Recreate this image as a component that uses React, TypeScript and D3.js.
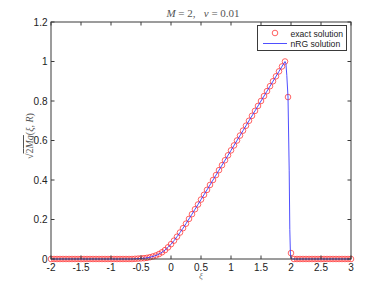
import React from "react";
import * as d3 from "d3";

const xiExact = [
  -2, -1.95, -1.9, -1.85, -1.8, -1.75, -1.7, -1.65, -1.6, -1.55, -1.5, -1.45, -1.4, -1.35, -1.3, -1.25,
  -1.2, -1.15, -1.1, -1.05, -1, -0.95, -0.9, -0.85, -0.8, -0.75, -0.7, -0.65, -0.6, -0.55, -0.5, -0.45,
  -0.4, -0.35, -0.3, -0.25, -0.2, -0.15, -0.1, -0.05, 0, 0.05, 0.1, 0.15, 0.2, 0.25, 0.3, 0.35, 0.4,
  0.45, 0.5, 0.55, 0.6, 0.65, 0.7, 0.75, 0.8, 0.85, 0.9, 0.95, 1, 1.05, 1.1, 1.15, 1.2, 1.25, 1.3,
  1.35, 1.4, 1.45, 1.5, 1.55, 1.6, 1.65, 1.7, 1.75, 1.8, 1.85, 1.9, 1.95, 2, 2.05, 2.1, 2.15, 2.2,
  2.25, 2.3, 2.35, 2.4, 2.45, 2.5, 2.55, 2.6, 2.65, 2.7, 2.75, 2.8, 2.85, 2.9, 2.95, 3,
];
const uExact = [
  0, 0, 0, 0, 0, 0, 0, 0, 0, 0, 0, 0, 0, 0, 0, 0,
  0, 0, 0, 0, 0, 0, 0, 0, 0, 0, 0, 0, 0.001, 0.002, 0.003, 0.004,
  0.006, 0.009, 0.013, 0.018, 0.025, 0.034, 0.045, 0.059, 0.075, 0.093, 0.113, 0.134, 0.156, 0.179, 0.203, 0.227, 0.252,
  0.276, 0.301, 0.325, 0.35, 0.375, 0.4, 0.425, 0.45, 0.475, 0.5, 0.525, 0.55, 0.575, 0.6, 0.625, 0.65, 0.675, 0.7,
  0.725, 0.75, 0.775, 0.8, 0.825, 0.85, 0.875, 0.9, 0.925, 0.95, 0.975, 1.0, 0.82, 0.03, 0, 0, 0, 0,
  0, 0, 0, 0, 0, 0, 0, 0, 0, 0, 0, 0, 0, 0, 0, 0,
];

const xiNRG = [
  -2, -0.65, -0.6, -0.55, -0.5, -0.45, -0.4, -0.35, -0.3, -0.25, -0.2, -0.15, -0.1, -0.05, 0, 0.05, 0.1,
  0.15, 0.2, 0.25, 0.3, 0.35, 0.4, 0.45, 0.5, 0.6, 0.8, 1.0, 1.2, 1.4, 1.6, 1.8, 1.9, 1.915, 1.93, 1.95,
  1.97, 1.98, 1.99, 2.0, 2.02, 3,
];
const uNRG = [
  0, 0, 0.001, 0.002, 0.003, 0.004, 0.006, 0.009, 0.013, 0.018, 0.025, 0.034, 0.045, 0.059, 0.075, 0.093, 0.113,
  0.134, 0.156, 0.179, 0.203, 0.227, 0.252, 0.276, 0.301, 0.35, 0.45, 0.55, 0.65, 0.75, 0.85, 0.95, 1.0, 0.99, 0.93, 0.82,
  0.45, 0.15, 0.03, 0.005, 0, 0,
];

const xTicks = [-2, -1.5, -1, -0.5, 0, 0.5, 1, 1.5, 2, 2.5, 3];
const xTickLabels = ["-2", "-1.5", "-1", "-0.5", "0", "0.5", "1", "1.5", "2", "2.5", "3"];
const yTicks = [0, 0.2, 0.4, 0.6, 0.8, 1, 1.2];
const yTickLabels = ["0", "0.2", "0.4", "0.6", "0.8", "1", "1.2"];
const legendLabels = ["exact solution", "nRG solution"];

const W = 388;
const H = 292;
const L = 51, R = 351, T = 22, B = 259;

export default function App() {
  const x = d3.scaleLinear().domain([-2, 3]).range([L, R]);
  const y = d3.scaleLinear().domain([0, 1.2]).range([B, T]);
  const line = d3
    .line<number>()
    .x((_, i) => x(xiNRG[i]))
    .y((d) => y(d));
  const tick = 3.5;
  const axisColor = "#3a3a3a";
  const font = "'Liberation Sans', Arial, sans-serif";
  const serif = "'Liberation Serif', 'DejaVu Serif', serif";
  const red = "#ff3b3b";
  const blue = "#3b3bff";
  return (
    <svg
      width={W}
      height={H}
      style={{ position: "absolute", left: 0, top: 0, background: "#fff" }}
    >
      <rect x={0} y={0} width={W} height={H} fill="#fff" />
      {/* title */}
      <text
        x={203}
        y={17}
        textAnchor="middle"
        fontFamily={serif}
        fontSize={11}
        fill="#555"
        style={{ whiteSpace: "pre" }}
      >
        <tspan fontStyle="italic">M</tspan>
        <tspan>{" = 2,   "}</tspan>
        <tspan fontStyle="italic">ν</tspan>
        <tspan>{" = 0.01"}</tspan>
      </text>
      {/* data: exact circles */}
      <g>
        {uExact.map((u, i) => (
          <circle
            key={i}
            cx={x(xiExact[i])}
            cy={y(u)}
            r={2.8}
            fill="none"
            stroke={red}
            strokeWidth={0.8}
          />
        ))}
      </g>
      {/* nRG line */}
      <path d={line(uNRG) || ""} fill="none" stroke={blue} strokeWidth={0.9} />
      {/* axes box */}
      <rect
        x={L}
        y={T}
        width={R - L}
        height={B - T}
        fill="none"
        stroke={axisColor}
        strokeWidth={1}
      />
      {xTicks.map((t, i) => (
        <g key={"xt" + i}>
          <line x1={x(t)} x2={x(t)} y1={B} y2={B - tick} stroke={axisColor} strokeWidth={1} />
          <line x1={x(t)} x2={x(t)} y1={T} y2={T + tick} stroke={axisColor} strokeWidth={1} />
          <text
            x={x(t)}
            y={270.5}
            textAnchor="middle"
            fontFamily={font}
            fontSize={10}
            fill="#222"
          >
            {xTickLabels[i]}
          </text>
        </g>
      ))}
      {yTicks.map((t, i) => (
        <g key={"yt" + i}>
          <line x1={L} x2={L + tick} y1={y(t)} y2={y(t)} stroke={axisColor} strokeWidth={1} />
          <line x1={R} x2={R - tick} y1={y(t)} y2={y(t)} stroke={axisColor} strokeWidth={1} />
          <text
            x={47.5}
            y={y(t) + 3.5}
            textAnchor="end"
            fontFamily={font}
            fontSize={10}
            fill="#222"
          >
            {yTickLabels[i]}
          </text>
        </g>
      ))}
      {/* x label */}
      <text
        x={201}
        y={279}
        textAnchor="middle"
        fontFamily={serif}
        fontStyle="italic"
        fontSize={9}
        fill="#777"
      >
        ξ
      </text>
      {/* y label */}
      <text
        transform="translate(33,136) rotate(-90)"
        textAnchor="middle"
        fontFamily={serif}
        fontSize={10}
        fill="#555"
      >
        <tspan>√</tspan>
        <tspan textDecoration="overline" style={{ textDecoration: "overline" }}>
          2<tspan fontStyle="italic">Mg</tspan>
        </tspan>
        <tspan>(</tspan>
        <tspan fontStyle="italic">ξ</tspan>
        <tspan>, </tspan>
        <tspan fontStyle="italic">R</tspan>
        <tspan>)</tspan>
      </text>
      {/* legend */}
      <rect x={257.5} y={25.5} width={89} height={25} fill="#fff" stroke={axisColor} strokeWidth={1} />
      <circle cx={275} cy={33} r={2.8} fill="none" stroke={red} strokeWidth={0.8} />
      <line x1={263} x2={287} y1={43.5} y2={43.5} stroke={blue} strokeWidth={0.9} />
      <text x={290.5} y={36.5} fontFamily={font} fontSize={8.6} fill="#222">
        {legendLabels[0]}
      </text>
      <text x={290.5} y={46.5} fontFamily={font} fontSize={8.6} fill="#222">
        {legendLabels[1]}
      </text>
    </svg>
  );
}
